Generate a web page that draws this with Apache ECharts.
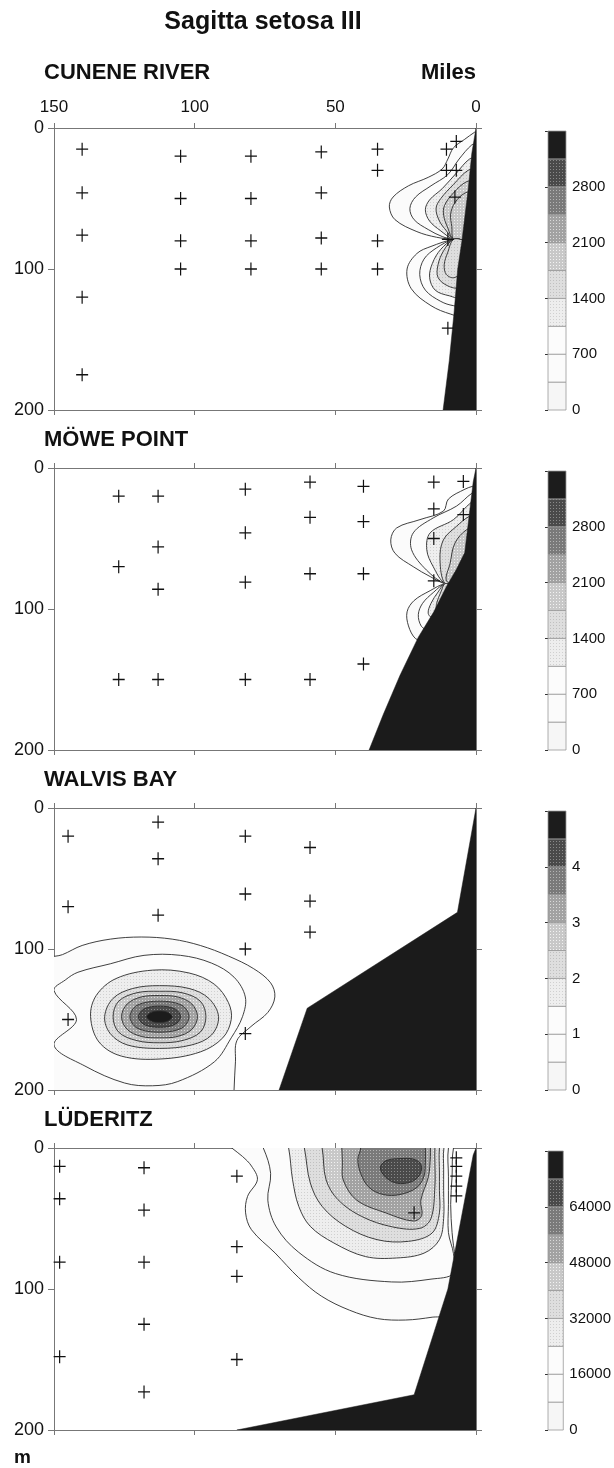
<!DOCTYPE html>
<html><head><meta charset="utf-8">
<script src="https://cdn.jsdelivr.net/npm/echarts@6/dist/echarts.min.js"></script>
<style>html,body{margin:0;padding:0;background:#fff}#c{width:614px;height:1468px}</style>
</head><body><div id="c"></div>
<script>
// ---------------- DATA ----------------
const chartTitle = 'Sagitta setosa III';
const panelNames = ['CUNENE RIVER', 'MÖWE POINT', 'WALVIS BAY', 'LÜDERITZ'];
const distanceLabel = 'Miles';
const depthLabel = 'm';
const milesRange = [0, 150];      // x axis, offshore distance (miles), drawn reversed
const milesTickStep = 50;
const depthRange = [0, 200];      // y axis, depth (m), drawn downward
const depthTickStep = 100;

// colour-scale legends (abundance)
const legendMax = [3500, 3500, 5, 80000];
const legendStep = [350, 350, 0.5, 8000];
const legendLabelStep = [700, 700, 1, 16000];

// sampling stations [miles, depth]
const stationsCunene = [[140,15],[140,46],[140,76],[140,120],[140,175],
  [105,20],[105,50],[105,80],[105,100],[80,20],[80,50],[80,80],[80,100],
  [55,17],[55,46],[55,78],[55,100],[35,15],[35,30],[35,80],[35,100],
  [10.5,15],[7,9.5],[10.5,30],[7,30],[7.5,49],[10,79],[10,142]];
const stationsMowe = [[127,20],[127,70],[127,150],[113,20],[113,56],[113,86],[113,150],
  [82,15],[82,46],[82,81],[82,150],[59,10],[59,35],[59,75],[59,150],
  [40,13],[40,38],[40,75],[40,139],[15,10],[4.5,9.5],[15,29],[4.5,33],[15,50],[15,80]];
const stationsWalvis = [[145,20],[145,70],[145,150],[113,10],[113,36],[113,76],
  [82,20],[82,61],[82,100],[82,160],[59,28],[59,66],[59,88]];
const stationsLuderitz = [[148,13],[148,36],[148,81],[148,148],
  [118,14],[118,44],[118,81],[118,125],[118,173],[85,20],[85,70],[85,91],[85,150],
  [22,46],[7,7],[7,13],[7,20],[7,27],[7,34]];

// sea floor / shelf profile [miles, depth]
const shelfCunene = [[0,0],[1.5,18],[2.7,42],[5,80],[6.5,100],[7.8,131],[9.5,165],[11.7,200],[0,200]];
const shelfMowe = [[0,0],[1,10],[2.5,35],[4,60],[7,72],[10.5,84],[15,102],[20.5,120],[27,147],[33,175],[38,200],[0,200]];
const shelfWalvis = [[0,0],[6.6,74],[60,142],[70,200],[0,200]];
const shelfLuderitz = [[0,0],[1,5],[10,100],[22,175],[85,200],[0,200]];

// isolines: [level index (value = level * legendStep), outline [miles, depth]]
const contoursCunene = [
  [1, [[0.5,3],[4,8],[8,14],[10,22],[12,29],[17,35],[24,41],[29.5,49],[30.8,56],[28.8,65],[21,73.5],[14,77.5],[8,79],[4,79.5],[0,60],[0,3]]],
  [2, [[1.5,12],[6,22],[10,33],[16,41],[21.5,49],[23.5,57],[22,65],[17,72],[12,77],[8,79],[4,79.5],[0,60],[0,12]]],
  [3, [[2.3,22],[7,32],[12,43],[16.5,51],[18,58],[16.5,66],[12.5,73],[8,79],[4,79.5],[0,60],[0,22]]],
  [4, [[2.8,30],[8,40],[12.5,50],[14.2,57],[13,66],[10.5,73],[8,79],[4,79.5],[0,40],[0,30]]],
  [5, [[3.3,38],[8,46],[11.2,55],[11.5,62],[10,71],[8,79],[4,79.5],[0,40],[0,38]]],
  [5, [[3.8,46],[7.5,53],[9,61],[8.6,70],[8,79],[4,79.5],[0,46]]],
  [1, [[8,79],[16,84],[21,89],[24.5,100],[23,114],[16,126],[9,132],[5,133],[0,120],[0,80],[4,79.5]]],
  [2, [[8,79],[14,85],[18.5,93],[20,104],[18,115],[12.5,123],[8,126],[4,126],[0,110],[0,80],[4,79.5]]],
  [3, [[8,79],[12.5,86],[15.5,96],[16.5,106],[14.5,115],[9.5,119],[5,120],[0,100],[0,80],[4,79.5]]],
  [4, [[8,79],[11.5,87],[13.5,97],[13.5,106],[10,112],[6,113],[0,100],[0,80],[4,79.5]]],
  [4, [[8,79],[10,88],[11.3,97],[10.5,104],[7.5,106],[0,95],[0,80],[4,79.5]]]
];
const contoursMowe = [
  [1, [[1.2,13],[3.9,15],[9.8,22],[11.6,30.6],[19.9,36.6],[28.2,42.5],[30.3,51],[28.8,60.5],[22.3,70],[16.3,77],[11,82],[6,82],[0,40],[0,13]]],
  [2, [[1.5,18],[6.9,27],[15.2,35.4],[22.3,46],[22.9,58],[17.6,72.4],[11,82],[6,82],[0,40],[0,18]]],
  [3, [[1.8,24.6],[8,36.6],[16.3,46],[17.5,58],[15.2,70],[11,82],[6,82],[0,40],[0,24.6]]],
  [4, [[2.3,34.2],[6.9,41.3],[11.6,51],[12.8,65],[11,82],[6,82],[0,34]]],
  [5, [[3.3,43.7],[7.5,53.3],[9.2,67.6],[10.5,80],[6,82],[0,43]]],
  [1, [[11,82],[16.3,87],[22,94],[24.5,102],[24,112],[21.5,121],[19,121],[13,95],[9,84]]],
  [2, [[11,82],[15,88],[19,96],[20.5,104],[19.5,112],[17.5,114],[13,95],[9,84]]],
  [3, [[11,82],[13.5,88],[16,96],[17,103],[15.5,106],[12,92],[9,84]]],
  [4, [[11,82],[12.5,88],[14,96],[14,100],[11.5,90],[9,84]]]
];
const contoursWalvis = [
  [1, [[156,110],[147,104],[140,97.5],[130,93],[119,91.5],[108,93],[98,97.5],[88,105],[79,114],[73,124],[71.5,134],[74,145],[80,155],[85,165],[85.5,180],[86,200],[86,208],[156,208]]],
  [2, [[150,129.5],[146,122],[141.5,116.5],[130,110.5],[118,104.5],[105,104.5],[94,110],[86,120],[82,134],[83,148],[87,163],[93,180],[106,194],[115,197],[125,195],[139,183],[150,168],[142,150]]],
  [3, [[137,148],[135,133],[128,121],[115,115],[102,117],[93,125],[88,138],[87,150],[90,163],[98,173],[112,178],[126,176],[134,166]]],
  [4, [[132,148],[129,135],[122,128],[112.5,126],[102,128],[95,135],[91.5,148],[94,161],[101,168],[112.5,170.5],[124,168],[130,160]]],
  [5, [[129,148],[127,137],[120.5,131],[112.5,130],[104.5,131],[98,137],[96,148],[98,159],[104.5,165],[112.5,166.5],[120.5,165],[127,159]]],
  [6, [[126,148],[124,139],[119,134],[112.5,133],[106,134],[101,139],[99,148],[101,157],[106,162],[112.5,163],[119,162],[124,157]]],
  [7, [[123,148],[120.5,140],[112.5,137],[104.5,140],[102,148],[104.5,156],[112.5,159],[120.5,156]]],
  [8, [[120,148],[118,142.5],[112.5,140.5],[107,142.5],[105,148],[107,153.5],[112.5,155.5],[118,153.5]]],
  [9, [[117,148],[115.5,145],[112.5,144],[109.5,145],[108,148],[109.5,151],[112.5,152],[115.5,151]]]
];
const contoursLuderitz = [
  [1, [[90,-6],[86.8,0],[83,6],[79.8,12.8],[77.7,22.5],[81.2,34.3],[81.9,46],[79.8,58],[71.4,74.5],[63,92],[55,105],[45,115],[35,121],[25,122],[15.6,120],[11,118],[7,95],[8.5,60],[9,40],[8.5,20],[8,0],[6,-6]]],
  [2, [[78,-6],[75.6,0],[73,18],[74,37],[71,56],[63,74],[50,89],[30,95],[16,93],[8,89],[8,75],[9.8,60],[9.8,40],[9.8,20],[9.8,0],[8,-6]]],
  [3, [[68,-6],[66.6,0],[65.2,22.5],[63,41.4],[58.9,55.6],[50.5,67.4],[39.3,77],[28.2,78],[18.4,74.5],[13,65],[11.5,50],[11.5,30],[11.5,15],[11.4,0],[10,-6]]],
  [4, [[62,-6],[61,0],[58.9,24.8],[54.7,41.4],[46.3,55.6],[35.2,65],[24,66.2],[15.6,60.3],[13,46],[13,30],[13,17.7],[13,0],[12,-6]]],
  [5, [[56,-6],[54.7,0],[53.3,22.5],[49.1,36.6],[40.7,48.5],[29.6,56],[20,57],[16,50],[14.6,27],[14.6,10],[14.6,0],[14,-6]]],
  [6, [[48,-6],[47.7,0],[47.5,10],[47.2,22.7],[42.4,37],[31.7,46.3],[22.3,51.8],[19.3,48],[19.6,37],[16.9,20.3],[16.2,6],[16.2,0],[16,-6]]],
  [7, [[42,-6],[41,0],[42,8],[41,18],[38,28],[33,33],[27,33],[21,28],[18.5,20],[18,10],[18,0],[18,-6]]],
  [8, [[34,14],[32,9],[27,7.5],[22,8],[19.5,12],[20,19],[23,24],[28,25],[32,21]]]
];

const stationsAll = [stationsCunene, stationsMowe, stationsWalvis, stationsLuderitz];
const shelvesAll = [shelfCunene, shelfMowe, shelfWalvis, shelfLuderitz];
const contoursAll = [contoursCunene, contoursMowe, contoursWalvis, contoursLuderitz];

// ---------------- STYLE / LAYOUT ----------------
const palette = ['#f6f6f6','#fbfbfb','#fcfcfc','#eeeeee','#dedede','#c8c8c8','#a2a2a2','#7a7a7a','#4a4a4a','#1c1c1c'];
const dotColors = [null, null, null, '#d0d0d0', '#c0c0c0', '#f2f2f2', '#dadada', '#b4b4b4', '#8a8a8a', null];
function makeFill(k) {
  if (!dotColors[k]) return palette[k];
  const cv = document.createElement('canvas');
  cv.width = 3; cv.height = 3;
  const ctx = cv.getContext('2d');
  ctx.fillStyle = palette[k]; ctx.fillRect(0, 0, 3, 3);
  ctx.fillStyle = dotColors[k]; ctx.fillRect(1, 1, 1, 1);
  return {image: cv, repeat: 'repeat'};
}
const fills = palette.map((c, k) => makeFill(k));

const FONT = "'Liberation Sans', Arial, Helvetica, sans-serif";
const plotLeft = 54, plotWidth = 422, plotTop0 = 128, plotHeight = 282, panelGap = 340;
const barLeft = 548, barWidth = 18;
const axisColor = '#777';
const plusPath = 'path://M0.45,0H0.55V0.45H1V0.55H0.55V1H0.45V0.55H0V0.45H0.45Z';

const grids = [], xAxes = [], yAxes = [], series = [], graphics = [];

for (let p = 0; p < 4; p++) {
  const top = plotTop0 + panelGap * p;
  const gi = grids.length;
  grids.push({left: plotLeft, top: top, width: plotWidth, height: plotHeight});
  const xi = xAxes.length, yi = yAxes.length;
  const xBase = {gridIndex: gi, type: 'value', min: milesRange[0], max: milesRange[1], interval: milesTickStep,
    inverse: true, splitLine: {show: false},
    axisLine: {show: true, onZero: false, lineStyle: {color: axisColor, width: 1}},
    axisTick: {show: true, length: 5, lineStyle: {color: axisColor}}};
  xAxes.push(Object.assign({}, xBase, {position: 'top',
    axisLabel: {show: p === 0, color: '#111', fontSize: 17, fontFamily: FONT, margin: 12}}));
  xAxes.push(Object.assign({}, xBase, {position: 'bottom', axisLabel: {show: false}}));
  const yBase = {gridIndex: gi, type: 'value', min: depthRange[0], max: depthRange[1], interval: depthTickStep,
    inverse: true, splitLine: {show: false},
    axisLine: {show: true, onZero: false, lineStyle: {color: axisColor, width: 1}},
    axisTick: {show: true, length: 6, lineStyle: {color: axisColor}}};
  yAxes.push(Object.assign({}, yBase, {position: 'left',
    axisLabel: {show: true, color: '#111', fontSize: 18, fontFamily: FONT, margin: 10}}));
  yAxes.push(Object.assign({}, yBase, {position: 'right', axisLabel: {show: false}}));

  const contours = contoursAll[p];
  series.push({
    type: 'custom', xAxisIndex: xi, yAxisIndex: yi, clip: true, silent: true, z: 2,
    data: contours.map((c, i) => [i, c[0]]),
    renderItem: (params, api) => {
      const c = contours[params.dataIndex];
      return {type: 'polygon', shape: {points: c[1].map(pt => api.coord(pt)), smooth: 0.35},
        style: {fill: fills[c[0]], stroke: '#2a2a2a', lineWidth: 0.9}};
    }
  });
  const shelf = shelvesAll[p];
  series.push({
    type: 'custom', xAxisIndex: xi, yAxisIndex: yi, clip: true, silent: true, z: 5,
    data: [[0]],
    renderItem: (params, api) => ({type: 'polygon', shape: {points: shelf.map(pt => api.coord(pt))},
      style: {fill: '#1b1b1b', stroke: '#1b1b1b', lineWidth: 0.5}})
  });
  series.push({
    type: 'scatter', xAxisIndex: xi, yAxisIndex: yi, z: 10, silent: true,
    symbol: plusPath, symbolSize: [12, 13], itemStyle: {color: '#111', opacity: 1},
    data: stationsAll[p]
  });

  // colour legend
  const gl = grids.length;
  grids.push({left: barLeft, top: top + 3, width: barWidth, height: plotHeight - 3});
  const xl = xAxes.length, yl = yAxes.length;
  xAxes.push({gridIndex: gl, type: 'value', min: 0, max: 1, show: false});
  const lmax = legendMax[p];
  yAxes.push({gridIndex: gl, type: 'value', min: 0, max: lmax, interval: legendLabelStep[p], position: 'right',
    splitLine: {show: false}, axisLine: {show: false},
    axisTick: {show: true, inside: true, length: 3, lineStyle: {color: '#333'}},
    axisLabel: {show: true, color: '#111', fontSize: 15, fontFamily: FONT, margin: 6,
      formatter: v => (v >= lmax ? '' : String(v))}});
  const step = legendStep[p];
  const bins = [];
  for (let k = 0; k < 10; k++) bins.push([k * step, (k + 1) * step, k]);
  series.push({
    type: 'custom', xAxisIndex: xl, yAxisIndex: yl, silent: true, z: 2, data: bins,
    renderItem: (params, api) => {
      const a = api.coord([0, api.value(0)]), b = api.coord([1, api.value(1)]);
      return {type: 'rect', shape: {x: a[0], y: b[1], width: b[0] - a[0], height: a[1] - b[1]},
        style: {fill: fills[api.value(2)], stroke: '#9a9a9a', lineWidth: 0.8}};
    }
  });

  graphics.push({type: 'text', x: 44, y: (p === 0 ? 72.5 : top - 28),
    style: {text: panelNames[p], font: 'bold 22px ' + FONT, fill: '#111',
      align: 'left', verticalAlign: 'middle', textAlign: 'left', textVerticalAlign: 'middle'}});
}

graphics.push({type: 'text', x: 263, y: 22,
  style: {text: chartTitle, font: 'bold 25px ' + FONT, fill: '#111',
    align: 'center', verticalAlign: 'middle', textAlign: 'center', textVerticalAlign: 'middle'}});
graphics.push({type: 'text', x: 476, y: 72.5,
  style: {text: distanceLabel, font: 'bold 22px ' + FONT, fill: '#111',
    align: 'right', verticalAlign: 'middle', textAlign: 'right', textVerticalAlign: 'middle'}});
graphics.push({type: 'text', x: 14, y: 1458,
  style: {text: depthLabel, font: 'bold 19px ' + FONT, fill: '#111',
    align: 'left', verticalAlign: 'middle', textAlign: 'left', textVerticalAlign: 'middle'}});

const chart = echarts.init(document.getElementById('c'), null, {renderer: 'canvas'});
chart.setOption({
  animation: false,
  backgroundColor: '#fff',
  grid: grids, xAxis: xAxes, yAxis: yAxes, series: series, graphic: graphics
});
</script></body></html>
